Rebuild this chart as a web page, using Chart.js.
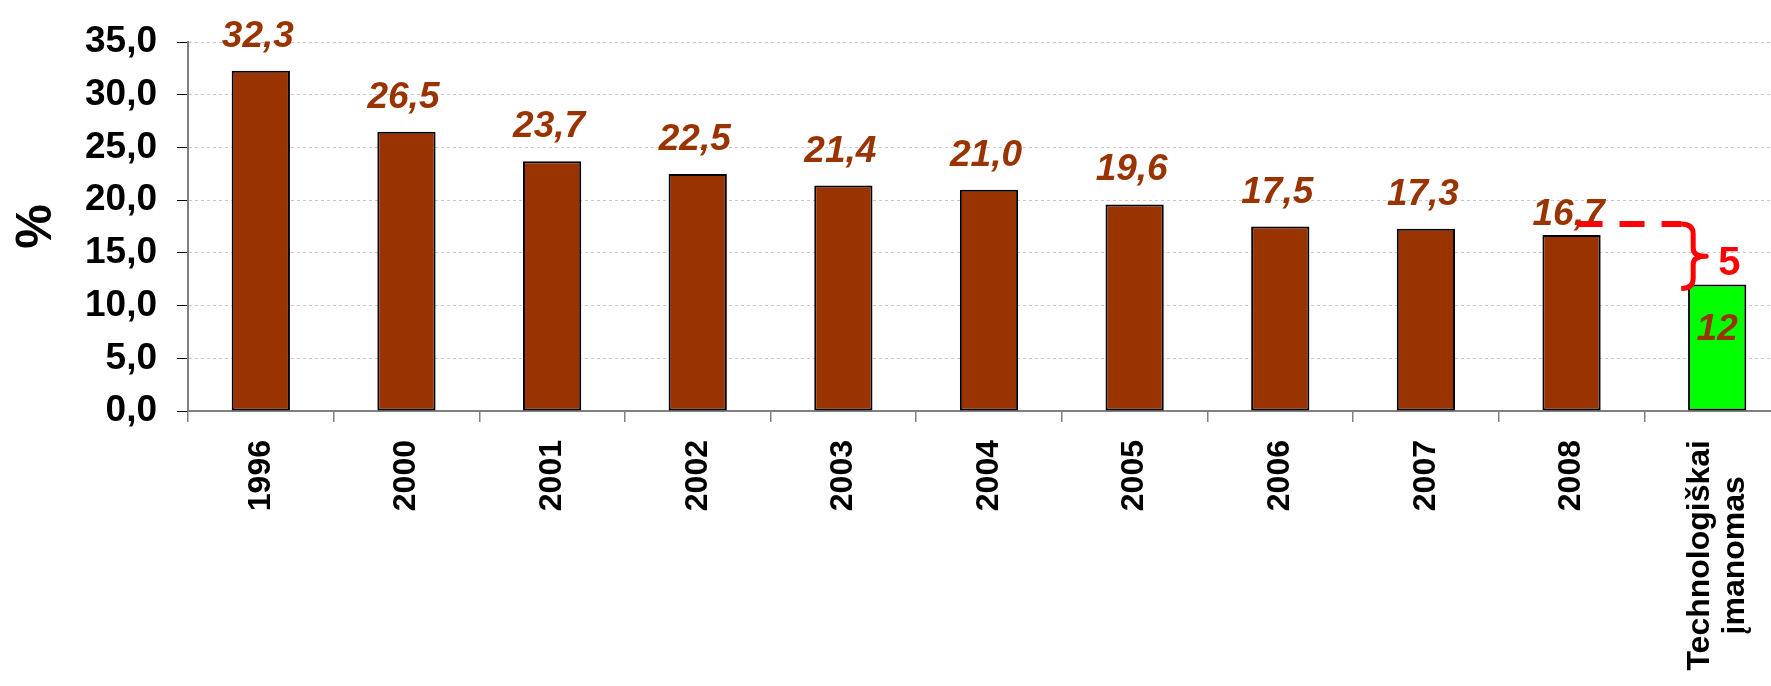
<!DOCTYPE html>
<html>
<head>
<meta charset="utf-8">
<script src="https://cdn.jsdelivr.net/npm/chart.js@4.4.0/dist/chart.umd.min.js"></script>
<style>
  html, body { margin: 0; padding: 0; background: #fff; overflow: hidden; }
  #wrap { width: 1771px; height: 686px; overflow: hidden; }
</style>
</head>
<body>
<div id="wrap"><canvas id="shareChart" width="1800" height="686"></canvas></div>
<script>
// chart values
const categories = ['1996', '2000', '2001', '2002', '2003', '2004', '2005', '2006', '2007', '2008', ['Technologiškai', 'įmanomas']];
const shares = [32.3, 26.5, 23.7, 22.5, 21.4, 21.0, 19.6, 17.5, 17.3, 16.7, 12];
const yMin = 0;
const yMax = 35;
const yStep = 5;
const gapLabel = '5';

const FONT = "'Liberation Sans', Arial, sans-serif";
const brown = '#993300';
const green = '#00ff00';
const red = '#ff0000';
const last = shares.length - 1;

// value labels, x-axis labels and the red "gap" bracket
const overlay = {
    id: 'overlay',
    afterDatasetsDraw(chart) {
        const ctx = chart.ctx;
        const meta = chart.getDatasetMeta(0);
        const xScale = chart.scales.x;
        const yScale = chart.scales.y;

        ctx.save();

        // value labels above the bars (the last one goes inside its bar)
        ctx.fillStyle = brown;
        ctx.font = 'italic bold 37px ' + FONT;
        ctx.textAlign = 'center';
        ctx.textBaseline = 'alphabetic';
        meta.data.forEach((bar, i) => {
            if (i === last) {
                ctx.fillText(String(shares[i]), bar.x, bar.y + 55);
            } else {
                // 2008 label sits lower in the original, under the red line
                const drop = i === last - 1 ? 14 : 0;
                ctx.fillText(shares[i].toFixed(1).replace('.', ','), bar.x - 3, bar.y - 24 + drop);
            }
        });

        // rotated category labels, lines centred on each other
        ctx.fillStyle = '#000';
        ctx.font = 'bold 32px ' + FONT;
        categories.forEach((label, i) => {
            const lines = [].concat(label);
            const x = xScale.getPixelForValue(i);
            ctx.save();
            ctx.translate(x, xScale.top + 29);
            ctx.rotate(-Math.PI / 2);
            const w = Math.max(...lines.map(l => ctx.measureText(l).width));
            ctx.textAlign = 'center';
            ctx.textBaseline = 'middle';
            lines.forEach((l, j) => {
                ctx.fillText(l, -w / 2, (j - (lines.length - 1) / 2) * 35);
            });
            ctx.restore();
        });

        // red dashed line + brace between 2008 and the last bar
        const b9 = meta.data[last - 1];
        const b10 = meta.data[last];
        const topY = yScale.getPixelForValue(shares[last - 1]) - 11;
        const botY = yScale.getPixelForValue(shares[last]) + 4;
        const midY = (topY + botY) / 2;
        const bx = b10.x - 24;

        ctx.strokeStyle = red;
        ctx.lineWidth = 6;
        ctx.setLineDash([25, 17]);
        ctx.beginPath();
        ctx.moveTo(b9.x + 6, topY);
        ctx.lineTo(bx - 12, topY);
        ctx.stroke();
        ctx.setLineDash([]);

        ctx.lineWidth = 5;
        ctx.lineJoin = 'round';
        ctx.beginPath();
        ctx.moveTo(bx - 12, topY);
        ctx.quadraticCurveTo(bx, topY, bx, topY + 10);
        ctx.lineTo(bx, midY - 8);
        ctx.quadraticCurveTo(bx, midY, bx + 13, midY);
        ctx.quadraticCurveTo(bx, midY, bx, midY + 8);
        ctx.lineTo(bx, botY - 10);
        ctx.quadraticCurveTo(bx, botY, bx - 12, botY);
        ctx.stroke();

        ctx.fillStyle = red;
        ctx.font = 'bold 40px ' + FONT;
        ctx.textAlign = 'left';
        ctx.textBaseline = 'alphabetic';
        ctx.fillText(gapLabel, bx + 25, midY + 19);

        ctx.restore();
    }
};

new Chart(document.getElementById('shareChart'), {
    type: 'bar',
    data: {
        labels: categories,
        datasets: [{
            data: shares,
            backgroundColor: c => (c.dataIndex === last ? green : brown),
            borderColor: '#000',
            borderWidth: 2,
            borderSkipped: false,
            barPercentage: 0.4,
            categoryPercentage: 1
        }]
    },
    options: {
        responsive: false,
        animation: false,
        devicePixelRatio: 1,
        layout: { padding: { top: 39, right: 10, left: 0, bottom: 0 } },
        plugins: {
            legend: { display: false },
            tooltip: { enabled: false }
        },
        scales: {
            x: {
                grid: { offset: true, drawOnChartArea: false, color: '#808080', tickLength: 11, lineWidth: 1.5 },
                border: { color: '#808080', width: 2 },
                ticks: { display: false },
                afterFit: s => { s.height = 275; }
            },
            y: {
                min: yMin,
                max: yMax,
                ticks: {
                    stepSize: yStep,
                    autoSkip: false,
                    padding: 20,
                    color: '#000',
                    font: { family: FONT, size: 37, weight: 'bold' },
                    callback: v => v.toFixed(1).replace('.', ',')
                },
                grid: { color: '#c8c8c8', tickColor: '#000', tickLength: 11, tickBorderDash: [] },
                border: { color: '#808080', width: 2, dash: [3, 3] },
                title: {
                    display: true,
                    text: '%',
                    color: '#000',
                    font: { family: FONT, size: 50, weight: 'bold', lineHeight: 1 },
                    padding: { top: 12, bottom: 0 }
                },
                afterFit: s => { s.width = 188; }
            }
        }
    },
    plugins: [overlay]
});
</script>
</body>
</html>
